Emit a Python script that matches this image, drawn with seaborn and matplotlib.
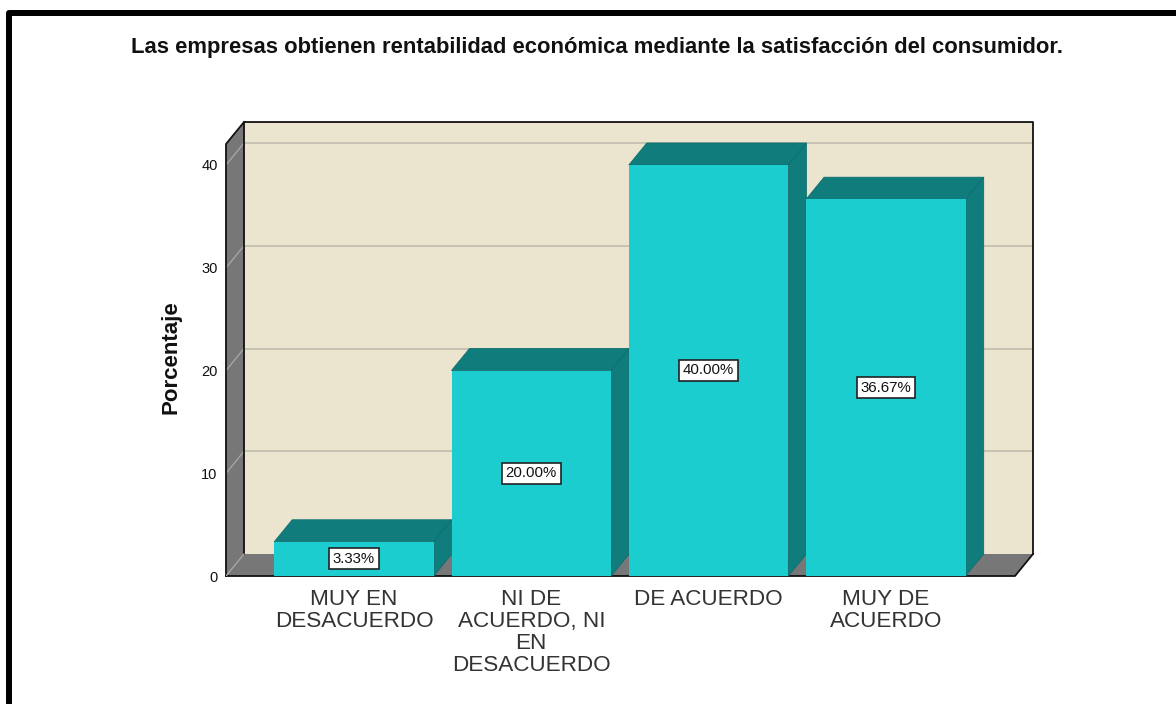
import matplotlib
matplotlib.use("Agg")
import matplotlib.pyplot as plt
import seaborn as sns
from matplotlib.lines import Line2D
from matplotlib.patches import Polygon

# Datos
categorias = ["MUY EN\nDESACUERDO", "NI DE\nACUERDO, NI\nEN\nDESACUERDO", "DE ACUERDO", "MUY DE\nACUERDO"]
porcentajes = [3.33, 20.00, 40.00, 36.67]
etiquetas = ["3.33%", "20.00%", "40.00%", "36.67%"]
ticks_y = [0, 10, 20, 30, 40]
titulo = "Las empresas obtienen rentabilidad económica mediante la satisfacción del consumidor."

C_BARRA = "#1ccdd0"
C_OSCURO = "#117c7c"
C_FONDO = "#ebe5d0"
C_PARED = "#777777"
C_GRID = "#c6c2b4"

sns.set_style("white")
plt.rcParams["font.family"] = ["Liberation Sans", "DejaVu Sans"]

W, H = 1176, 704
fig = plt.figure(figsize=(W / 100, H / 100), dpi=100, facecolor="white")
ax = fig.add_axes([226 / W, 1 - 576 / H, (1033 - 226) / W, (576 - 122) / H])
ax.set_facecolor("none")

sns.barplot(x=categorias, y=porcentajes, color=C_BARRA, saturation=1, width=0.9, linewidth=0, ax=ax)

# Profundidad del efecto 3D en unidades de datos
px_x = 177.3
px_y = 10.275
dx = 18 / px_x
dy = 22 / px_y
x0 = -128 / px_x
x1 = (1033 - 354) / px_x
y1 = (576 - 122) / px_y
ax.set_xlim(x0, x1)
ax.set_ylim(0, y1)

# Paredes y suelo
ax.add_patch(Polygon([(x0 + dx, dy), (x1, dy), (x1, y1), (x0 + dx, y1)], fc=C_FONDO, ec="none", zorder=0.2))
ax.add_patch(Polygon([(x0, 0), (x0 + dx, dy), (x0 + dx, y1), (x0, y1 - dy)], fc=C_PARED, ec="none", zorder=0.3))
ax.add_patch(Polygon([(x0, 0), (x1 - dx, 0), (x1, dy), (x0 + dx, dy)], fc=C_PARED, ec="none", zorder=0.3))

for t in ticks_y[1:]:
    ax.plot([x0 + dx, x1], [t + dy, t + dy], color=C_GRID, lw=1.4, zorder=0.5)
    ax.plot([x0, x0 + dx], [t, t + dy], color="#a9a9a9", lw=0.9, zorder=0.5)

# Bordes negros
borde = dict(color="#111111", lw=1.3, zorder=0.7, clip_on=False, solid_capstyle="projecting")
ax.plot([x0 + dx, x0 + dx, x1, x1], [dy, y1, y1, dy], **borde)
ax.plot([x0, x0, x0 + dx], [0, y1 - dy, y1], **borde)
ax.plot([x0, x1 - dx, x1], [0, 0, dy], **borde)
ax.plot([x0, x0 + dx], [0, dy], color="#a9a9a9", lw=0.9, zorder=0.8)

# Caras superior y lateral de cada barra
for i, barra in enumerate(ax.containers[0]):
    xa = barra.get_x()
    xb = xa + barra.get_width()
    h = barra.get_height()
    z = 2 + i
    barra.set_zorder(z + 0.2)
    ax.add_patch(Polygon([(xa, h), (xb, h), (xb + dx, h + dy), (xa + dx, h + dy)],
                         fc=C_OSCURO, ec="#0f6d6d", lw=0.6, zorder=z))
    ax.add_patch(Polygon([(xb, 0), (xb + dx, dy), (xb + dx, h + dy), (xb, h)],
                         fc=C_OSCURO, ec="#0f6d6d", lw=0.6, zorder=z))

etq = ax.bar_label(ax.containers[0], labels=etiquetas, label_type="center", fontsize=10.8, color="#111111",
                   bbox=dict(boxstyle="square,pad=0.24", fc="white", ec="#222222", lw=1.2))
for e in etq:
    e.set_zorder(10)

sns.despine(ax=ax, left=True, bottom=True, top=True, right=True)
ax.set_yticks(ticks_y)
ax.set_yticklabels([str(t) for t in ticks_y], fontsize=10.5, color="#111111")
ax.tick_params(axis="y", length=0, pad=6)
ax.tick_params(axis="x", length=0, pad=9.5)
for lab in ax.get_xticklabels():
    lab.set_fontsize(16.2)
    lab.set_color("#333333")
    lab.set_linespacing(1.06)

fig.text(171 / W, 1 - 357 / H, "Porcentaje", rotation=90, ha="center", va="center",
         fontsize=16, fontweight="bold", color="#111111")
fig.text(597 / W, 1 - 47 / H, titulo, ha="center", va="center", fontsize=15.8, fontweight="bold", color="#111111")

# Marco negro de la captura
fig.add_artist(Line2D([9 / W, 9 / W, 1], [0, 1 - 12.5 / H, 1 - 12.5 / H], color="black", lw=4.3,
                      solid_joinstyle="round", transform=fig.transFigure))

fig.savefig("out.png", dpi=100)
